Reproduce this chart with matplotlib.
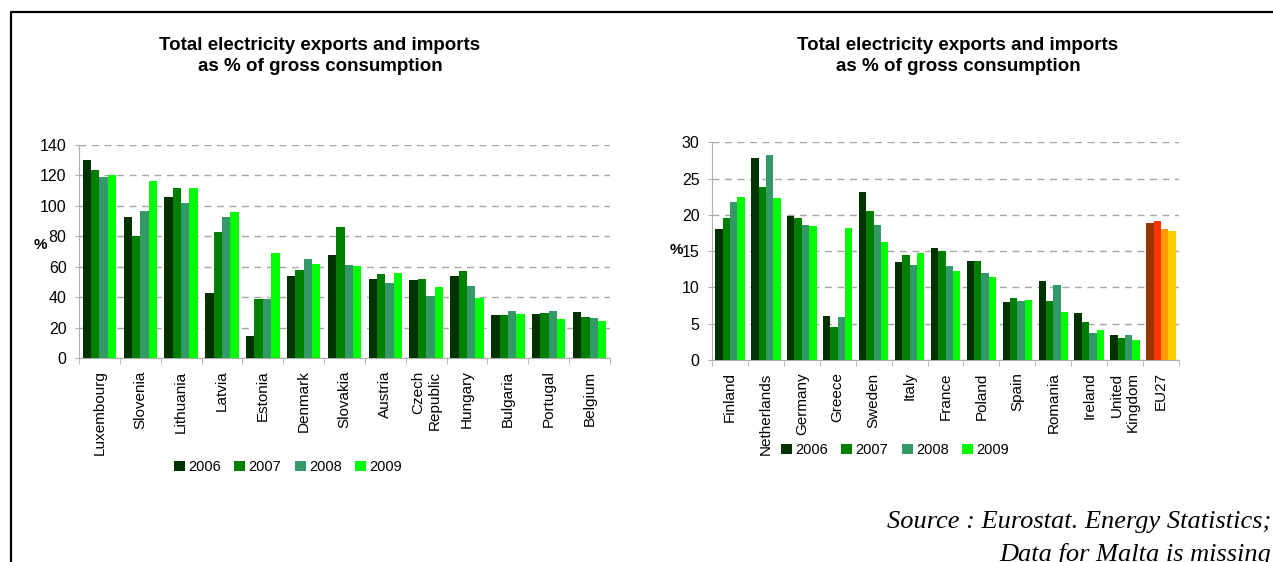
import matplotlib
matplotlib.use("Agg")
import matplotlib.pyplot as plt
import numpy as np
from matplotlib.patches import Patch
from matplotlib.lines import Line2D

plt.rcParams['font.family'] = ['Liberation Sans', 'DejaVu Sans']

years = ["2006", "2007", "2008", "2009"]
green_colors = ["#003300", "#008000", "#339966", "#00ff00"]
eu_colors = ["#993300", "#ff3300", "#ff9900", "#ffcc00"]

# left chart
countries_left = ["Luxembourg", "Slovenia", "Lithuania", "Latvia", "Estonia", "Denmark",
                  "Slovakia", "Austria", "Czech\nRepublic", "Hungary", "Bulgaria",
                  "Portugal", "Belgium"]
left_2006 = [130, 93, 106, 43, 14.5, 54, 68, 52, 51, 54, 28, 29, 30]
left_2007 = [123.5, 80, 112, 83, 39, 58, 86, 55, 52, 57, 28.5, 29.5, 27]
left_2008 = [119, 96.5, 102, 92.5, 39, 65, 61, 49.5, 40.5, 47.5, 31, 31, 26]
left_2009 = [120, 116.5, 111.5, 96, 69, 62, 60.5, 56, 46.5, 39.5, 29, 25.5, 24.5]

# right chart
countries_right = ["Finland", "Netherlands", "Germany", "Greece", "Sweden", "Italy",
                   "France", "Poland", "Spain", "Romania", "Ireland",
                   "United\nKingdom", "EU27"]
right_2006 = [18.1, 27.8, 19.8, 6.1, 23.2, 13.5, 15.5, 13.7, 8.0, 10.9, 6.5, 3.4, 18.9]
right_2007 = [19.6, 23.9, 19.6, 4.5, 20.5, 14.5, 15.0, 13.7, 8.6, 8.1, 5.2, 3.1, 19.1]
right_2008 = [21.8, 28.2, 18.6, 5.9, 18.6, 13.1, 13.0, 12.0, 8.1, 10.3, 3.7, 3.5, 18.0]
right_2009 = [22.4, 22.3, 18.5, 18.2, 16.2, 14.7, 12.3, 11.5, 8.2, 6.6, 4.1, 2.8, 17.8]

W, H = 1273, 562
fig = plt.figure(figsize=(W / 100, H / 100), dpi=100)


def draw(rect, cats, series, ymax, ystep, eu_last):
    ax = fig.add_axes(rect)
    x = np.arange(len(cats))
    bw = 0.205
    for i, vals in enumerate(series):
        cols = [green_colors[i]] * len(cats)
        if eu_last:
            cols[-1] = eu_colors[i]
        ax.bar(x + (i - 1.5) * bw, vals, bw, color=cols, linewidth=0, zorder=3)
    ax.set_xlim(-0.5, len(cats) - 0.5)
    ax.set_ylim(0, ymax)
    ax.set_yticks(np.arange(0, ymax + 1, ystep))
    ax.yaxis.grid(True, color="#a6a6a6", linestyle=(0, (5, 4)), linewidth=1, zorder=0)
    ax.set_xticks(x)
    ax.set_xticklabels(cats, rotation=90, va="top", ha="center", fontsize=11,
                       multialignment="right")
    ax.set_xticks(np.arange(-0.5, len(cats)), minor=True)
    ax.tick_params(axis="x", which="major", length=0, pad=9)
    ax.tick_params(axis="x", which="minor", length=4, color="#b0b0b0")
    ax.tick_params(axis="y", length=3, color="#b0b0b0", pad=6, labelsize=11.5)
    for s in ["top", "right"]:
        ax.spines[s].set_visible(False)
    for s in ["left", "bottom"]:
        ax.spines[s].set_color("#b0b0b0")
    return ax


axl = draw([79 / W, 1 - 358 / H, 531 / W, 213 / H], countries_left,
           [left_2006, left_2007, left_2008, left_2009], 140, 20, False)
axr = draw([712 / W, 1 - 360 / H, 467 / W, 217.7 / H], countries_right,
           [right_2006, right_2007, right_2008, right_2009], 30, 5, True)

title = "Total electricity exports and imports\nas % of gross consumption"
fig.text(320 / W, 1 - 56 / H, title, ha="center", va="center", fontsize=13.5,
         fontweight="bold", linespacing=1.3)
fig.text(958 / W, 1 - 56 / H, title, ha="center", va="center", fontsize=13.5,
         fontweight="bold", linespacing=1.3)

fig.text(40 / W, 1 - 245 / H, "%", ha="center", va="center", fontsize=11, fontweight="bold")
fig.text(676 / W, 1 - 250 / H, "%", ha="center", va="center", fontsize=11, fontweight="bold")

handles = [Patch(facecolor=c, edgecolor="none") for c in green_colors]
for cx, cy in [(288, 467), (895, 450)]:
    fig.legend(handles, years, loc="center", bbox_to_anchor=(cx / W, 1 - cy / H),
               ncol=4, frameon=False, fontsize=10.5, handlelength=0.75,
               handleheight=0.75, handletextpad=0.25, columnspacing=0.9)

fig.text(1271 / W, 1 - 522 / H, "Source : Eurostat. Energy Statistics;", ha="right",
         va="center", fontsize=19, style="italic", family="Liberation Serif")
fig.text(1271 / W, 1 - 555 / H, "Data for Malta is missing", ha="right",
         va="center", fontsize=19, style="italic", family="Liberation Serif")

bx, by = 11 / W, 1 - 12 / H
fig.add_artist(Line2D([bx, bx, 1], [0, by, by], transform=fig.transFigure,
                      color="black", linewidth=1.6))

fig.savefig("out.png", dpi=100, facecolor="white")
